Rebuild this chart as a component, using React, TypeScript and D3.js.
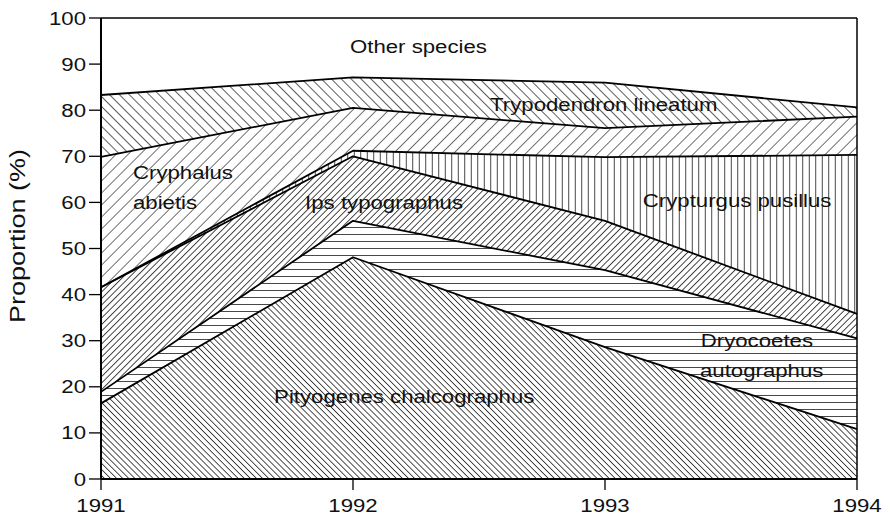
import React from "react";
import * as d3 from "d3";

const years = [1991, 1992, 1993, 1994];
const speciesKeys = ["pityogenes", "dryocoetes", "ips", "crypturgus", "cryphalus", "trypodendron", "other"];
// proportions (%) per year, bottom to top of the stack
const pityogenes = [16.4, 48.1, 28.6, 10.8];
const dryocoetes = [2.5, 7.9, 16.7, 19.7];
const ips = [22.7, 14.0, 10.7, 5.3];
const crypturgus = [0, 1.2, 13.8, 34.5];
const cryphalus = [28.3, 9.3, 6.3, 8.3];
const trypodendron = [13.4, 6.6, 9.9, 2.0];
const other = [16.7, 12.9, 14.0, 19.4];
const yTicks = [0, 10, 20, 30, 40, 50, 60, 70, 80, 90, 100];

// label text with anchor in data coords (year, %)
const labels: [string, number, number][] = [
  ["Other species", 1991.988, 92.4],
  ["Trypodendron lineatum", 1992.544, 79.8],
  ["Cryphalus", 1991.127, 65.1],
  ["abietis", 1991.127, 58.6],
  ["Ips typographus", 1991.81, 58.6],
  ["Crypturgus pusillus", 1993.15, 59.0],
  ["Dryocoetes", 1993.38, 28.6],
  ["autographus", 1993.377, 22.1],
  ["Pityogenes chalcographus", 1991.687, 16.5],
];

// hatch styles: angle (deg), spacing (px)
const hatch: Record<string, { angle: number; gap: number; w: number } | null> = {
  pityogenes: { angle: -45, gap: 4.3, w: 0.9 },
  dryocoetes: { angle: 90, gap: 7, w: 0.9 },
  ips: { angle: 45, gap: 4.6, w: 0.9 },
  crypturgus: { angle: 0, gap: 6.5, w: 0.9 },
  cryphalus: { angle: 45, gap: 8.5, w: 0.7 },
  trypodendron: { angle: -45, gap: 7, w: 0.8 },
  other: null,
};

const FONT = "'Liberation Sans', Arial, Helvetica, sans-serif";
const FS = 18.5;
const SX = 1.2;

export default function App() {
  const width = 890;
  const height = 515;
  const x = d3.scaleLinear().domain([1991, 1994]).range([101, 857]);
  const y = d3.scaleLinear().domain([0, 100]).range([479, 18]);

  const table = years.map((yr, i) => ({
    year: yr,
    pityogenes: pityogenes[i],
    dryocoetes: dryocoetes[i],
    ips: ips[i],
    crypturgus: crypturgus[i],
    cryphalus: cryphalus[i],
    trypodendron: trypodendron[i],
    other: other[i],
  }));

  const series = d3.stack<any>().keys(speciesKeys)(table);

  const area = d3
    .area<any>()
    .x((d) => x(d.data.year))
    .y0((d) => y(d[0]))
    .y1((d) => y(d[1]));

  const topLine = d3
    .line<any>()
    .x((d) => x(d.data.year))
    .y((d) => y(d[1]));

  return (
    <svg
      width={width}
      height={height}
      style={{ position: "absolute", left: 0, top: 0, background: "#fff" }}
    >
      <defs>
        {speciesKeys.map((k) => {
          const h = hatch[k];
          if (!h) return null;
          return (
            <pattern
              key={k}
              id={`hatch-${k}`}
              patternUnits="userSpaceOnUse"
              width={h.gap}
              height={h.gap}
              patternTransform={`rotate(${h.angle})`}
            >
              <rect width={h.gap} height={h.gap} fill="#fff" />
              <line x1={h.gap / 2} y1={-1} x2={h.gap / 2} y2={h.gap + 1} stroke="#333" strokeWidth={h.w} />
            </pattern>
          );
        })}
      </defs>

      {series.map((s) => (
        <path
          key={s.key}
          d={area(s) || ""}
          fill={hatch[s.key] ? `url(#hatch-${s.key})` : "#fff"}
          stroke="none"
        />
      ))}

      {series.slice(0, series.length - 1).map((s) => (
        <path key={`l-${s.key}`} d={topLine(s) || ""} fill="none" stroke="#000" strokeWidth={1.8} strokeLinejoin="round" />
      ))}

      {/* frame */}
      <line x1={x(1991)} x2={x(1994)} y1={y(100)} y2={y(100)} stroke="#000" strokeWidth={1.5} />
      <line x1={x(1994)} x2={x(1994)} y1={y(100)} y2={y(0)} stroke="#000" strokeWidth={1.5} />
      <line x1={x(1991)} x2={x(1991)} y1={y(100)} y2={y(0)} stroke="#000" strokeWidth={2} />
      <line x1={x(1991)} x2={x(1994)} y1={y(0)} y2={y(0)} stroke="#000" strokeWidth={2} />

      {/* y ticks */}
      {yTicks.map((t) => (
        <g key={`yt-${t}`}>
          <line x1={x(1991) - 12} x2={x(1991)} y1={y(t)} y2={y(t)} stroke="#000" strokeWidth={1.3} />
          <text
            transform={`translate(${x(1991) - 15},${y(t) + 6.5}) scale(${SX},1)`}
            textAnchor="end"
            fontFamily={FONT}
            fontSize={FS}
            fill="#111"
          >
            {t}
          </text>
        </g>
      ))}

      {/* x ticks */}
      {years.map((yr) => (
        <g key={`xt-${yr}`}>
          <line x1={x(yr)} x2={x(yr)} y1={y(0)} y2={y(0) + 11} stroke="#000" strokeWidth={1.3} />
          <text
            transform={`translate(${x(yr)},${511.5}) scale(${SX},1)`}
            textAnchor="middle"
            fontFamily={FONT}
            fontSize={FS}
            fill="#111"
          >
            {yr}
          </text>
        </g>
      ))}

      <text
        transform={`translate(25,236) rotate(-90) scale(${SX},1)`}
        textAnchor="middle"
        fontFamily={FONT}
        fontSize={22.5}
        fill="#111"
      >
        Proportion (%)
      </text>

      {labels.map(([t, yr, v]) => (
        <text
          key={t}
          transform={`translate(${x(yr)},${y(v)}) scale(${SX},1)`}
          fontFamily={FONT}
          fontSize={FS}
          fill="#111"
        >
          {t}
        </text>
      ))}
    </svg>
  );
}
